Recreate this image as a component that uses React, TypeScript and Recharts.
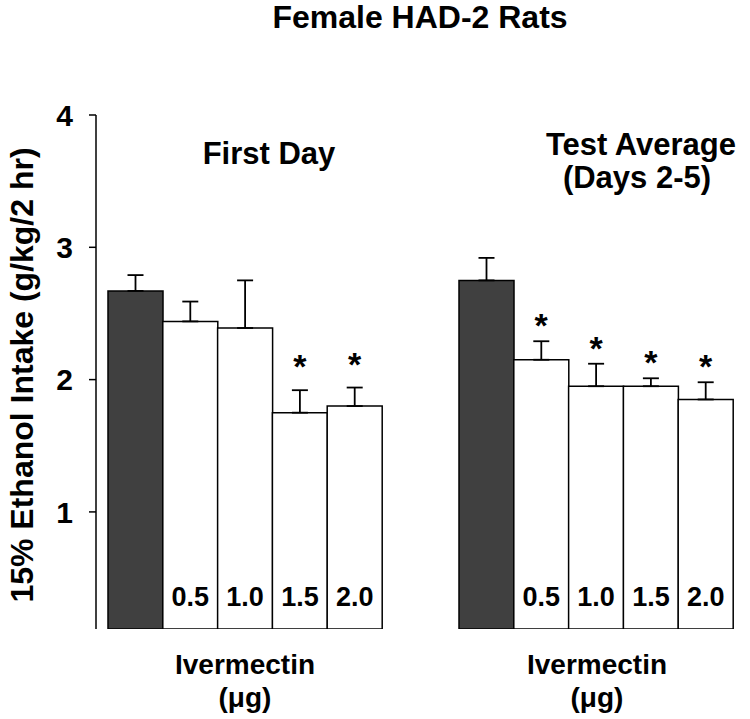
import React from 'react';
import { ComposedChart, Bar, ErrorBar, Scatter, XAxis, YAxis, Cell, LabelList } from 'recharts';

const categories = ['Control', '0.5', '1.0', '1.5', '2.0'];
const doseLabels = ['', '0.5', '1.0', '1.5', '2.0'];
const isControl = [true, false, false, false, false];

const firstDayMean = [2.67, 2.44, 2.39, 1.75, 1.80];
const firstDaySem = [0.12, 0.15, 0.36, 0.17, 0.14];
const firstDaySig = [false, false, false, true, true];

const testAvgMean = [2.75, 2.15, 1.95, 1.95, 1.85];
const testAvgSem = [0.17, 0.14, 0.17, 0.06, 0.13];
const testAvgSig = [false, true, true, true, true];

const yTicks = [1, 2, 3, 4];
const yDomain: [number, number] = [0.115, 4];

const FONT = '"Liberation Sans", Arial, Helvetica, sans-serif';
const DARK = '#404040';

function build(mean: number[], sem: number[], sig: boolean[]) {
  return categories.map((c, i) => ({
    cat: c,
    dose: doseLabels[i],
    control: isControl[i],
    mean: mean[i],
    err: [0, sem[i]],
    top: mean[i] + sem[i],
    sig: sig[i],
  }));
}

const firstDayData = build(firstDayMean, firstDaySem, firstDaySig);
const testAvgData = build(testAvgMean, testAvgSem, testAvgSig);

const DoseLabel = (props: any) => {
  const { x, y, width, height, value } = props;
  if (!value) return null;
  return (
    <text
      x={x + width / 2}
      y={y + height - 23}
      textAnchor="middle"
      fontFamily={FONT}
      fontWeight="bold"
      fontSize={27}
      fill="#000"
    >
      {value}
    </text>
  );
};

const makeStar = (lift: number) => (props: any) => {
  const { cx, cy, payload } = props;
  if (!payload || !payload.sig || !isFinite(cx) || !isFinite(cy)) return <g />;
  return (
    <text
      x={cx}
      y={cy - lift}
      textAnchor="middle"
      fontFamily={FONT}
      fontWeight="bold"
      fontSize={34}
      fill="#000"
    >
      *
    </text>
  );
};

function Panel({ data, showY, starLift }: { data: any[]; showY: boolean; starLift: number }) {
  return (
    <ComposedChart
      width={showY ? 390 : 300}
      height={719}
      data={data}
      margin={showY ? { top: 115, right: 8, bottom: 90, left: 0 } : { top: 115, right: 16, bottom: 90, left: 10 }}
      barCategoryGap={0}
    >
      <XAxis dataKey="cat" hide padding={showY ? { left: 12, right: 0 } : { left: 0, right: 0 }} />
      <YAxis
        hide={!showY}
        width={96}
        domain={yDomain}
        ticks={yTicks}
        allowDataOverflow
        axisLine={{ stroke: '#000', strokeWidth: 1.5 }}
        tickLine={{ stroke: '#000', strokeWidth: 1.5 }}
        tickSize={7}
        tickMargin={16}
        tick={{ fill: '#000', fontFamily: FONT, fontWeight: 'bold', fontSize: 30 }}
      />
      <Bar dataKey="mean" isAnimationActive={false} stroke="#000" strokeWidth={1.5}>
        {data.map((d, i) => (
          <Cell key={i} fill={d.control ? DARK : '#fff'} />
        ))}
        <ErrorBar dataKey="err" width={8} stroke="#000" strokeWidth={1.8} direction="y" />
        <LabelList dataKey="dose" content={DoseLabel} />
      </Bar>
      <Scatter dataKey="top" isAnimationActive={false} shape={makeStar(starLift)} />
    </ComposedChart>
  );
}

export default function App() {
  const textStyle = { fontFamily: FONT, fontWeight: 'bold' as const, fill: '#000' };
  return (
    <div style={{ position: 'absolute', left: 0, top: 0, width: 750, height: 719, background: '#fff' }}>
      <div style={{ position: 'absolute', left: 0, top: 0 }}>
        <Panel data={firstDayData} showY starLift={12} />
      </div>
      <div style={{ position: 'absolute', left: 449, top: 0 }}>
        <Panel data={testAvgData} showY={false} starLift={4} />
      </div>
      <svg width={750} height={719} style={{ position: 'absolute', left: 0, top: 0, pointerEvents: 'none' }}>
        <text x={420} y={28} textAnchor="middle" fontSize={32} {...textStyle}>Female HAD-2 Rats</text>
        <text x={269} y={164} textAnchor="middle" fontSize={31} {...textStyle}>First Day</text>
        <text x={641} y={155} textAnchor="middle" fontSize={31} {...textStyle}>Test Average</text>
        <text x={637} y={188} textAnchor="middle" fontSize={31} {...textStyle}>(Days 2-5)</text>
        <text x={245} y={674} textAnchor="middle" fontSize={28} {...textStyle}>Ivermectin</text>
        <text x={245} y={707} textAnchor="middle" fontSize={28} {...textStyle}>(μg)</text>
        <text x={597} y={674} textAnchor="middle" fontSize={28} {...textStyle}>Ivermectin</text>
        <text x={597} y={707} textAnchor="middle" fontSize={28} {...textStyle}>(μg)</text>
        <text
          x={33}
          y={375}
          textAnchor="middle"
          fontSize={32}
          transform="rotate(-90, 33, 375)"
          {...textStyle}
        >
          15% Ethanol Intake (g/kg/2 hr)
        </text>
      </svg>
    </div>
  );
}
